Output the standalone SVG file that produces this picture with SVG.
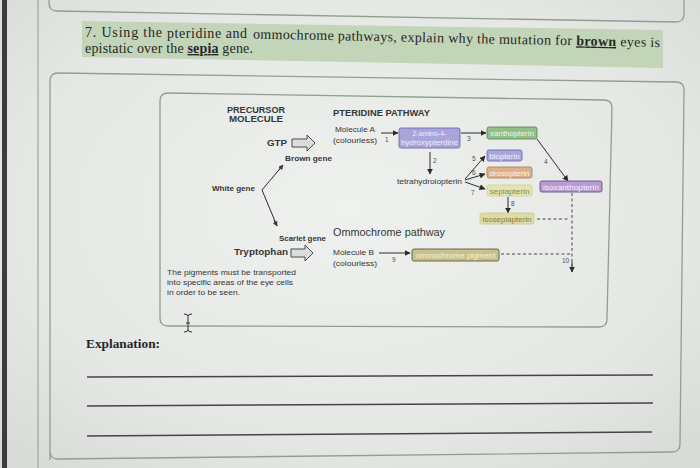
<svg xmlns="http://www.w3.org/2000/svg" width="700" height="468" viewBox="0 0 700 468">
<defs>
<radialGradient id="bg" cx="0.5" cy="0.45" r="0.7">
<stop offset="0" stop-color="#eff1ef"/>
<stop offset="0.7" stop-color="#e5e7e5"/>
<stop offset="1" stop-color="#d8dbd8"/>
</radialGradient>
<marker id="ah" viewBox="0 0 10 10" refX="9" refY="5" markerWidth="6" markerHeight="6" markerUnits="userSpaceOnUse" orient="auto">
<path d="M0,0 L10,5 L0,10 Z" fill="#2a2a2a"/>
</marker>
<marker id="ahs" viewBox="0 0 10 10" refX="9" refY="5" markerWidth="5" markerHeight="5" markerUnits="userSpaceOnUse" orient="auto">
<path d="M0,0 L10,5 L0,10 Z" fill="#3a3a3a"/>
</marker>
<style>
.frame{fill:none;stroke:#8fa08c;stroke-width:1.3}
.q{font-family:"Liberation Serif","DejaVu Serif",serif;font-size:14px;fill:#262626}
.lbl{font-family:"Liberation Sans",Arial,sans-serif;fill:#363636}
.b{font-weight:bold}
.num{font-family:"Liberation Sans",Arial,sans-serif;font-size:6.5px;fill:#505050}
.box{stroke-width:0.9}
.bt{font-family:"Liberation Sans",Arial,sans-serif;font-size:7px;text-anchor:middle}
.conn{stroke:#2a2a2a;stroke-width:1;fill:none}
.dash{stroke:#444;stroke-width:1;fill:none;stroke-dasharray:3 2.5}
.hollow{fill:#dcdedc;stroke:#4a4a4a;stroke-width:1}
.rule{stroke:#454545;stroke-width:1.5}
</style>
</defs>
<rect width="700" height="468" fill="url(#bg)"/>
<rect x="2" y="0" width="5" height="468" fill="#3c3c3c"/>
<line x1="38" y1="0" x2="38" y2="468" stroke="#9aab96" stroke-width="1.2"/>
<path class="frame" d="M49,0 V3 Q49,11 57,11 L676,22 Q684,22 684,14 V0"/>
<path class="frame" d="M50,460 V81 Q50,73 58,73 L676,82 Q684,82 684,90 L680,444 Q680,452 672,452 L58,459 Q50,459 50,451"/>
<path class="frame" d="M160,101 Q160,93 168,93 L604,100 Q612,100 612,108 L607,319 Q607,327 599,327 L168,326 Q160,326 160,318 Z" stroke="#a8b4a5"/>

<g id="question">
<polygon points="82,21 663,30 663,68 82,57" fill="#c3d5b8"/>
<text class="q" x="85" y="36.5" textLength="77" lengthAdjust="spacing">7. Using the</text>
<text class="q" x="167" y="37.5" textLength="80" lengthAdjust="spacing">pteridine and</text>
<text class="q" x="253" y="38.5" transform="rotate(1.2 253 38.5)" textLength="407" lengthAdjust="spacing">ommochrome pathways, explain why the mutation for <tspan font-weight="bold" text-decoration="underline">brown</tspan> eyes is</text>
<text class="q" x="85" y="53" textLength="168" lengthAdjust="spacing">epistatic over the <tspan font-weight="bold" text-decoration="underline">sepia</tspan> gene.</text>
</g>

<g id="connectors">
<line class="conn" x1="381" y1="133" x2="398" y2="133" marker-end="url(#ah)"/>
<line class="conn" x1="461" y1="133" x2="486" y2="133" marker-end="url(#ah)"/>
<line class="conn" x1="430" y1="152" x2="430" y2="174" marker-end="url(#ah)"/>
<line class="conn" x1="537" y1="139" x2="568" y2="181" marker-end="url(#ah)"/>
<line class="conn" x1="465" y1="179" x2="485" y2="156" marker-end="url(#ah)"/>
<line class="conn" x1="465" y1="180" x2="485" y2="174" marker-end="url(#ah)"/>
<line class="conn" x1="465" y1="182" x2="485" y2="189" marker-end="url(#ah)"/>
<line class="conn" x1="508" y1="197" x2="508" y2="213" marker-end="url(#ah)"/>
<line class="conn" x1="379" y1="253" x2="410" y2="253" marker-end="url(#ah)"/>
<line class="dash" x1="537" y1="219" x2="570" y2="219"/>
<line class="dash" x1="501" y1="254" x2="570" y2="254"/>
<line class="dash" x1="572" y1="193" x2="572" y2="266"/>
<line class="conn" x1="572" y1="262" x2="572" y2="272" marker-end="url(#ah)"/>
<polyline class="conn" points="283,165 262,190 277,226" stroke="#444"/>
<line class="conn" x1="279" y1="170" x2="283" y2="165" marker-end="url(#ahs)"/>
<line class="conn" x1="274" y1="220" x2="277" y2="226" marker-end="url(#ahs)"/>
<text class="num" x="385" y="142">1</text>
<text class="num" x="433" y="163">2</text>
<text class="num" x="467" y="141">3</text>
<text class="num" x="544" y="164">4</text>
<text class="num" x="472" y="161">5</text>
<text class="num" x="472" y="175">6</text>
<text class="num" x="471" y="195">7</text>
<text class="num" x="511" y="206">8</text>
<text class="num" x="392" y="262">9</text>
<text class="num" x="562" y="263">10</text>
</g>

<g id="precursor">
<text class="lbl b" x="256" y="113" font-size="9" text-anchor="middle" textLength="58" lengthAdjust="spacingAndGlyphs">PRECURSOR</text>
<text class="lbl b" x="256" y="122" font-size="9" text-anchor="middle" textLength="54" lengthAdjust="spacingAndGlyphs">MOLECULE</text>
</g>
<g id="pteridine-title">
<text class="lbl b" x="333" y="116" font-size="8.5" textLength="97" lengthAdjust="spacingAndGlyphs">PTERIDINE PATHWAY</text>
</g>
<g id="gtp">
<text class="lbl b" x="267" y="146" font-size="9.5" textLength="20" lengthAdjust="spacingAndGlyphs">GTP</text>
<path class="hollow" d="M292,139 H307 V135 L315,143 L307,151 V147 H292 Z"/>
</g>
<g id="molecule-a">
<text class="lbl" x="335" y="132" font-size="8" textLength="40" lengthAdjust="spacingAndGlyphs">Molecule A</text>
<text class="lbl" x="333" y="143" font-size="8" textLength="44" lengthAdjust="spacingAndGlyphs">(colourless)</text>
</g>
<g id="aminohydroxypterdine">
<rect class="box" x="399" y="128" width="61" height="20" rx="2" fill="#a9a5d9" stroke="#6f6aab"/>
<text class="bt" x="429.5" y="136" fill="#eeeeff">2-amino-4-</text>
<text class="bt" x="429.5" y="145" fill="#eeeeff" textLength="57" lengthAdjust="spacingAndGlyphs">hydroxypterdine</text>
</g>
<g id="xanthopterin">
<rect class="box" x="487" y="127" width="50" height="12" rx="2" fill="#92bf88" stroke="#5c8c55"/>
<text class="bt" x="512" y="136" fill="#eef6e8" textLength="44" lengthAdjust="spacingAndGlyphs">xanthopterin</text>
</g>
<g id="tetrahydroiopterin">
<text class="lbl" x="397" y="184" font-size="7.5" textLength="65" lengthAdjust="spacingAndGlyphs">tetrahydroiopterin</text>
</g>
<g id="biopterin">
<rect class="box" x="487" y="150" width="35" height="11" rx="2" fill="#aaa6dc" stroke="#716cb0"/>
<text class="bt" x="504.5" y="158.5" fill="#f0f0ff" textLength="30" lengthAdjust="spacingAndGlyphs">biopterin</text>
</g>
<g id="drosopterin">
<rect class="box" x="487" y="167" width="45" height="11" rx="2" fill="#dcb08a" stroke="#b0865e"/>
<text class="bt" x="509.5" y="175.5" fill="#fff4e8" textLength="40" lengthAdjust="spacingAndGlyphs">drosopterin</text>
</g>
<g id="sepiapterin">
<rect class="box" x="487" y="185" width="45" height="11" rx="2" fill="#e3e5ab" stroke="#d3d49a"/>
<text class="bt" x="509.5" y="193.5" fill="#85856a" textLength="40" lengthAdjust="spacingAndGlyphs">sepiapterin</text>
</g>
<g id="isosepiapterin">
<rect class="box" x="480" y="213" width="54" height="11" rx="2" fill="#dfdba3" stroke="#cfcb92"/>
<text class="bt" x="507" y="221.5" fill="#7e7a58" textLength="49" lengthAdjust="spacingAndGlyphs">isosepiapterin</text>
</g>
<g id="isoxanthopterin">
<rect class="box" x="540" y="181" width="62" height="11" rx="2" fill="#b79cd2" stroke="#6e4e8c"/>
<text class="bt" x="571" y="189.5" fill="#f6f0fb" textLength="56" lengthAdjust="spacingAndGlyphs">isoxanthopterin</text>
</g>
<g id="brown-gene">
<text class="lbl b" x="285" y="161" font-size="7.5" textLength="47" lengthAdjust="spacingAndGlyphs">Brown gene</text>
</g>
<g id="white-gene">
<text class="lbl b" x="212" y="191" font-size="7.5" textLength="43" lengthAdjust="spacingAndGlyphs">White gene</text>
</g>
<g id="scarlet-gene">
<text class="lbl b" x="279" y="241" font-size="7.5" textLength="47" lengthAdjust="spacingAndGlyphs">Scarlet gene</text>
</g>
<g id="ommochrome-title">
<text class="lbl" x="333" y="236" font-size="11.5" textLength="112" lengthAdjust="spacingAndGlyphs">Ommochrome pathway</text>
</g>
<g id="tryptophan">
<text class="lbl b" x="234" y="255" font-size="9.5" textLength="54" lengthAdjust="spacingAndGlyphs">Tryptophan</text>
<path class="hollow" d="M291,249 H305 V245 L313,253 L305,261 V257 H291 Z"/>
</g>
<g id="molecule-b">
<text class="lbl" x="333" y="255" font-size="8" textLength="41" lengthAdjust="spacingAndGlyphs">Molecule B</text>
<text class="lbl" x="333" y="266" font-size="8" textLength="44" lengthAdjust="spacingAndGlyphs">(colourless)</text>
</g>
<g id="ommochrome-pigment">
<rect class="box" x="412" y="249" width="87" height="12" rx="2" fill="#c9c18d" stroke="#5e5a42"/>
<text class="bt" x="455.5" y="258" fill="#f5f1da" textLength="80" lengthAdjust="spacingAndGlyphs">ommochrome pigment</text>
</g>
<g id="note">
<text class="lbl" x="167" y="275" font-size="7.5" textLength="129" lengthAdjust="spacingAndGlyphs">The pigments must be transported</text>
<text class="lbl" x="167" y="285" font-size="7.5" textLength="126" lengthAdjust="spacingAndGlyphs">into specific areas of the eye cells</text>
<text class="lbl" x="167" y="295" font-size="7.5" textLength="73" lengthAdjust="spacingAndGlyphs">in order to be seen.</text>
</g>
<g id="cursor" stroke="#2e2e2e" stroke-width="1" fill="none">
<line x1="188" y1="315" x2="188" y2="331"/>
<path d="M184,314 Q188,314 188,316 Q188,314 192,314"/>
<path d="M184,332 Q188,332 188,330 Q188,332 192,332"/>
<line x1="186" y1="323" x2="190" y2="323"/>
</g>
<g id="explanation">
<text x="86" y="348" font-family="Liberation Serif, DejaVu Serif, serif" font-weight="bold" font-size="12.5" fill="#262626" textLength="74" lengthAdjust="spacingAndGlyphs">Explanation:</text>
<line class="rule" x1="87" y1="377" x2="653" y2="375"/>
<line class="rule" x1="87" y1="406" x2="653" y2="403"/>
<line class="rule" x1="87" y1="436" x2="652" y2="432"/>
</g>
</svg>
